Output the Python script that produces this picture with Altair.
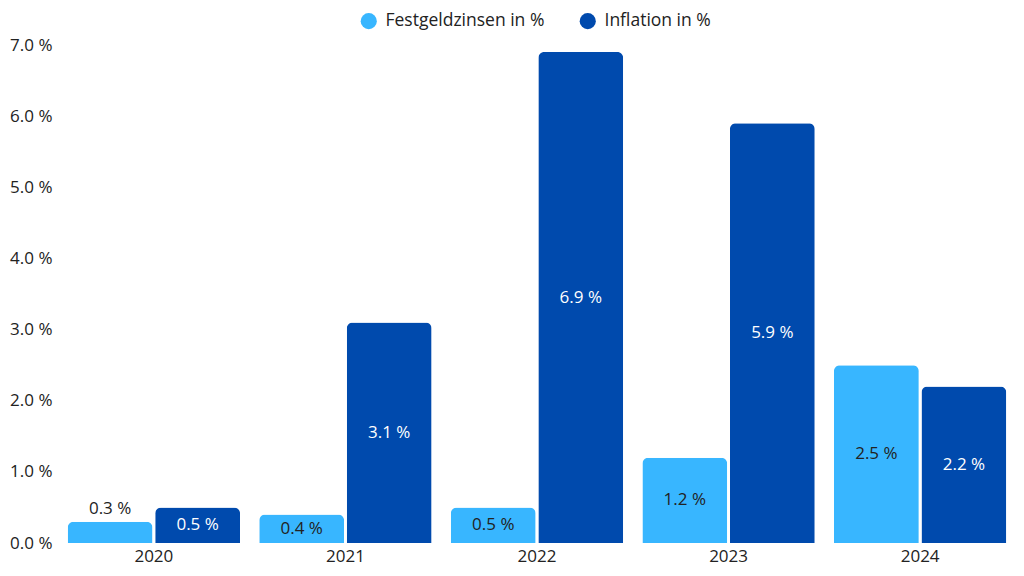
import altair as alt
import pandas as pd

years = ["2020", "2021", "2022", "2023", "2024"]
series_names = ["Festgeldzinsen in %", "Inflation in %"]
festgeld = [0.3, 0.4, 0.5, 1.2, 2.5]
inflation = [0.5, 3.1, 6.9, 5.9, 2.2]
colors = ["#38b6ff", "#004aad"]

rows = []
for y, f, i in zip(years, festgeld, inflation):
    rows.append({"year": y, "series": series_names[0], "value": f})
    rows.append({"year": y, "series": series_names[1], "value": i})
df = pd.DataFrame(rows)

FONT = "Open Sans"
TXT = "#222222"
FS = 17

x = alt.X("year:N", sort=years, title=None,
          scale=alt.Scale(paddingInner=0.1, paddingOuter=0.04),
          axis=alt.Axis(labelAngle=0, domain=False, ticks=False, labelPadding=5,
                        labelFontSize=FS, labelColor=TXT, labelFont=FONT))
xo = alt.XOffset("series:N", sort=series_names, scale=alt.Scale(paddingInner=0.03))
yscale = alt.Scale(domain=[0, 7], nice=False)

base = alt.Chart(df)

bars = base.mark_bar(cornerRadiusTopLeft=6, cornerRadiusTopRight=6).encode(
    x=x,
    xOffset=xo,
    y=alt.Y("value:Q", scale=yscale, title=None,
            axis=alt.Axis(values=[0, 1, 2, 3, 4, 5, 6, 7], grid=False, domain=False, ticks=False,
                          labelExpr="format(datum.value, '.1f') + ' %'", labelPadding=8,
                          labelFontSize=FS, labelColor=TXT, labelFont=FONT)),
    color=alt.Color("series:N", sort=series_names, title=None,
                    scale=alt.Scale(domain=series_names, range=colors),
                    legend=alt.Legend(orient="none", legendX=300, legendY=-33,
                                      direction="horizontal", symbolType="circle",
                                      symbolSize=260, labelFontSize=17.5, labelColor=TXT,
                                      labelFont=FONT, columnPadding=34, labelOffset=8,
                                      symbolStrokeWidth=0)),
)

labeled = base.transform_calculate(
    label="format(datum.value, '.1f') + ' %'",
    mid="datum.value / 2",
)

text_color = alt.condition(alt.datum.series == series_names[1], alt.value("white"), alt.value(TXT))

inside = labeled.transform_filter("datum.value >= 0.4").mark_text(
    fontSize=FS, font=FONT, baseline="middle"
).encode(
    x=x, xOffset=xo,
    y=alt.Y("mid:Q", scale=yscale),
    text="label:N",
    color=text_color,
)

above = labeled.transform_filter("datum.value < 0.4").mark_text(
    fontSize=FS, font=FONT, baseline="middle", dy=-13
).encode(
    x=x, xOffset=xo,
    y=alt.Y("value:Q", scale=yscale),
    text="label:N",
    color=text_color,
)

chart = alt.layer(bars, inside, above).properties(
    width=954, height=498,
    padding={"left": 1, "right": 1, "top": 4, "bottom": 6},
).configure(font=FONT).configure_view(stroke=None)

chart.save("out.html", embed_options={"renderer": "svg", "actions": False})
